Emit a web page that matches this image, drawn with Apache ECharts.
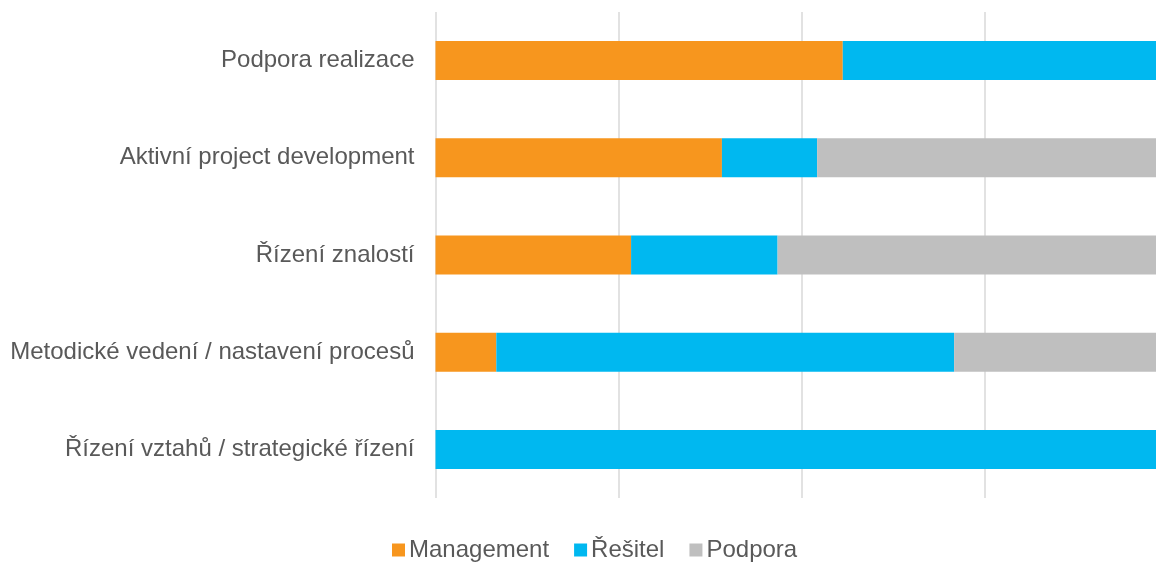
<!DOCTYPE html>
<html>
<head>
<meta charset="utf-8">
<script src="https://cdn.jsdelivr.net/npm/echarts@6/dist/echarts.min.js"></script>
<style>
  html, body { margin: 0; padding: 0; background: #fff; }
  #main { width: 1156px; height: 562px; }
</style>
</head>
<body>
<div id="main"></div>
<script>
// categories, top to bottom
const categories = [
  'Podpora realizace',
  'Aktivní project development',
  'Řízení znalostí',
  'Metodické vedení / nastavení procesů',
  'Řízení vztahů / strategické řízení'
]
// shares in percent
const management = [55.6, 39.1, 26.7, 8.3, 0]
const resitel = [44.4, 13.0, 20.0, 62.5, 100]
const podpora = [0, 47.9, 53.3, 29.2, 0]

const chart = echarts.init(document.getElementById('main'))

const labelFont = 'Liberation Sans, Arial, sans-serif'

// the original picture is cut at the right, so only ~98.4 % of the axis is visible
const visibleMax = 98.36

const option = {
  animation: false,
  textStyle: { fontFamily: labelFont },
  legend: {
    data: ['Management', 'Řešitel', 'Podpora'],
    top: 538,
    left: 392,
    padding: 0,
    icon: 'rect',
    itemWidth: 13,
    itemHeight: 13,
    itemGap: 25,
    textStyle: { fontSize: 24, color: '#595959', fontFamily: labelFont, padding: [0, 0, 0, -1] }
  },
  grid: {
    left: 435.5,
    top: 12,
    right: 0,
    height: 486
  },
  xAxis: {
    type: 'value',
    min: 0,
    max: visibleMax,
    interval: 25,
    axisLabel: { show: false },
    axisLine: { show: false },
    axisTick: { show: false },
    splitLine: { showMaxLine: false, lineStyle: { color: '#d9d9d9', width: 1.5 } }
  },
  yAxis: {
    type: 'category',
    inverse: true,
    data: categories,
    axisLine: { show: false },
    axisTick: { show: false },
    axisLabel: { fontSize: 24, color: '#595959', margin: 21, fontFamily: labelFont }
  },
  series: [
    {
      name: 'Management',
      type: 'bar',
      stack: 'all',
      barWidth: 39,
      itemStyle: { color: '#f7961e' },
      data: management
    },
    {
      name: 'Řešitel',
      type: 'bar',
      stack: 'all',
      barWidth: 39,
      itemStyle: { color: '#00b8f0' },
      data: resitel
    },
    {
      name: 'Podpora',
      type: 'bar',
      stack: 'all',
      barWidth: 39,
      itemStyle: { color: '#bfbfbf' },
      data: podpora
    }
  ]
}

chart.setOption(option)
</script>
</body>
</html>
